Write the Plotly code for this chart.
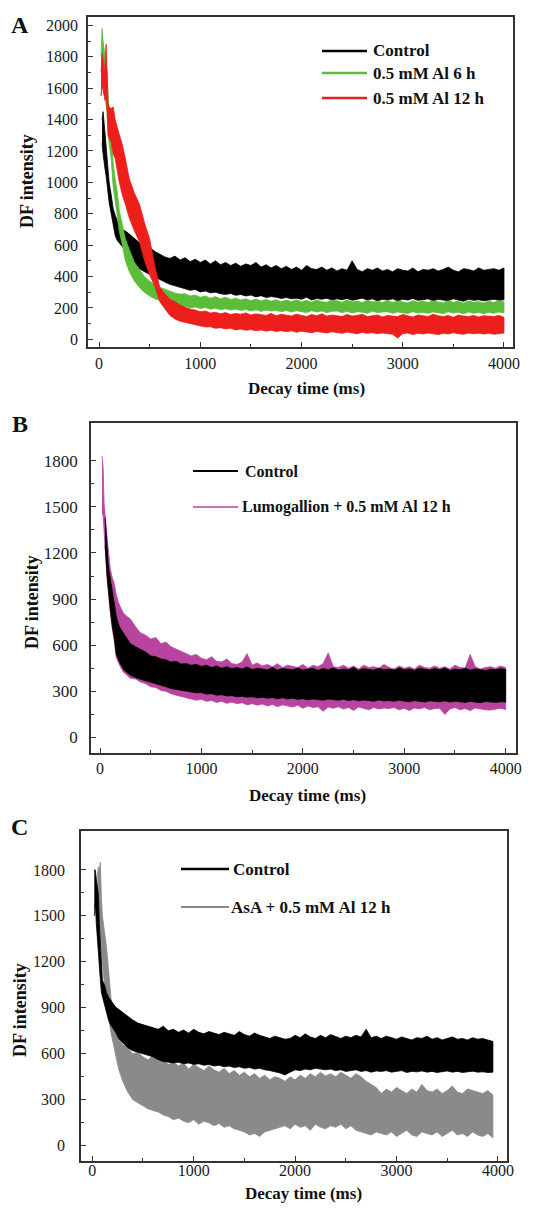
import plotly.graph_objects as go

# ---------------- data ----------------
EARLY = [10, 20, 30, 40, 50, 60, 70, 80, 90, 100, 120, 140, 160, 180, 200, 230, 260, 300]
TIME_AB = EARLY + list(range(350, 4001, 50))
TIME_C = EARLY + list(range(350, 3951, 50))

X_TICKS = [0, 1000, 2000, 3000, 4000]
Y_TICKS_A = [0, 200, 400, 600, 800, 1000, 1200, 1400, 1600, 1800, 2000]
Y_TICKS_BC = [0, 300, 600, 900, 1200, 1500, 1800]

# Panel A : Control (black)
CTRL_A_HI = [None, None, 1400, 1450, 1380, 1300, 1220, 1150, 1080, 1000, 920, 830, 790, 750, 720, 700, 690, 670,
             640, 615, 600, 585, 560, 540, 525, 515, 530, 505,
             520, 495, 510, 490, 505, 480, 500, 475, 490, 470,
             485, 465, 480, 470, 490, 460, 475, 455, 470, 450,
             465, 445, 460, 440, 470, 450, 445, 460, 440, 455,
             435, 450, 440, 500, 445, 430, 450, 440, 455, 435,
             445, 430, 450, 440, 435, 455, 430, 445, 440, 450,
             435, 445, 460, 440, 430, 450, 445, 435, 455, 440,
             445, 450, 440, 455]
CTRL_A_LO = [None, None, 1250, 1180, 1120, 1080, 1040, 1000, 940, 870, 800, 720, 660, 630, 610, 590, 570, 555,
             470, 450, 430, 410, 395, 380, 365, 350, 340, 330,
             322, 312, 318, 302, 308, 296, 300, 290, 286, 292,
             280, 286, 276, 282, 270, 278, 266, 272, 268, 260,
             266, 258, 262, 255, 268, 250, 260, 255, 262, 250,
             258, 252, 260, 248, 255, 262, 250, 258, 245, 255,
             250, 258, 245, 255, 250, 260, 248, 252, 258, 245,
             255, 250, 245, 258, 250, 242, 255, 248, 252, 245,
             250, 255, 248, 252]
# Panel A : 0.5 mM Al 6 h (green)
AL6_A_HI = [None, 1800, 1980, 1900, 1850, 1800, 1740, 1700, 1550, 1420, 1300, 1120, 1020, 940, 820, 720, 640, 570,
            490, 445, 398, 372, 348, 332, 318, 304, 294, 288,
            290, 276, 282, 268, 276, 262, 272, 258, 268, 254,
            262, 250, 258, 246, 256, 244, 254, 242, 252, 240,
            250, 240, 252, 238, 248, 236, 250, 240, 236, 248,
            246, 236, 250, 238, 244, 234, 248, 238, 242, 234,
            246, 234, 244, 238, 232, 246, 236, 242, 234, 244,
            240, 232, 246, 236, 242, 230, 244, 236, 240, 232,
            242, 234, 246, 238]
AL6_A_LO = [None, 1550, 1700, 1650, 1600, 1540, 1480, 1440, 1300, 1250, 1150, 970, 880, 790, 690, 600, 500, 430,
            370, 330, 298, 276, 258, 246, 236, 224, 214, 208,
            212, 200, 206, 196, 202, 192, 198, 188, 195, 186,
            192, 184, 190, 180, 188, 178, 186, 180, 184, 176,
            184, 174, 182, 176, 170, 182, 174, 180, 170, 178,
            180, 170, 178, 168, 176, 172, 166, 178, 170, 174,
            176, 166, 174, 170, 164, 176, 168, 172, 166, 174,
            170, 164, 176, 168, 172, 162, 174, 166, 170, 164,
            172, 166, 174, 168]
# Panel A : 0.5 mM Al 12 h (red)
AL12_A_HI = [None, 1700, 1820, 1780, 1700, 1760, 1880, 1700, 1500, 1480, 1470, 1480, 1400, 1350, 1310, 1240, 1150, 1020,
             930, 860, 740, 640, 470, 330, 290, 255, 240, 218,
             205, 192, 186, 176, 180, 168, 172, 162, 170, 158,
             165, 160, 168, 155, 162, 158, 152, 165, 150, 160,
             155, 148, 160, 152, 145, 158, 150, 162, 148, 155,
             150, 145, 158, 148, 152, 160, 145, 150, 155, 142,
             152, 148, 145, 158, 150, 142, 155, 148, 145, 160,
             150, 145, 152, 140, 155, 148, 145, 152, 142, 150,
             148, 145, 152, 140]
AL12_A_LO = [None, 1550, 1620, 1600, 1560, 1520, 1560, 1450, 1300, 1280, 1260, 1180, 1150, 1080, 1000, 920, 860, 770,
             690, 620, 500, 410, 340, 240, 195, 152, 130, 115,
             105, 98, 90, 85, 78, 80, 70, 74, 66, 70,
             60, 65, 58, 62, 55, 60, 52, 58, 50, 55,
             48, 54, 45, 52, 48, 42, 50, 45, 40, 48,
             44, 38, 46, 40, 35, 44, 38, 42, 36, 40,
             38, 32, 8, 36, 40, 30, 38, 34, 40, 36,
             30, 38, 34, 42, 36, 32, 40, 35, 38, 34,
             38, 32, 36, 40]

# Panel B : Control (black)
CTRL_B_HI = [None, None, None, None, 1430, 1320, 1220, 1130, 1080, 1040, 940, 880, 790, 740, 710, 680, 650, 610,
             590, 575, 555, 530, 525, 510, 505, 490, 495, 478,
             480, 470, 475, 462, 470, 455, 465, 450, 460, 448,
             455, 445, 458, 442, 450, 445, 440, 455, 438, 448,
             445, 440, 452, 438, 445, 450, 436, 448, 440, 452,
             438, 445, 440, 455, 436, 448, 442, 438, 450, 440,
             445, 438, 452, 440, 446, 436, 450, 442, 438, 448,
             440, 452, 436, 445, 440, 450, 438, 446, 442, 436,
             445, 440, 448, 442]
CTRL_B_LO = [None, None, None, None, 1250, 1150, 1050, 960, 900, 840, 730, 650, 540, 510, 480, 445, 425, 405,
             390, 378, 368, 355, 350, 340, 330, 318, 312, 305,
             300, 295, 290, 292, 282, 285, 275, 278, 270, 272,
             265, 268, 262, 265, 258, 262, 255, 260, 252, 258,
             250, 255, 248, 252, 245, 250, 248, 242, 250, 245,
             242, 248, 240, 246, 238, 244, 240, 236, 244, 238,
             240, 235, 242, 238, 232, 240, 236, 230, 238, 234,
             232, 238, 230, 236, 232, 228, 235, 230, 226, 234,
             230, 228, 232, 230]
# Panel B : Lumogallion + 0.5 mM Al 12 h (magenta)
LUMO_B_HI = [None, 1830, 1760, 1520, 1420, 1370, 1300, 1220, 1150, 1100, 1040, 1000, 930, 880, 850, 810, 790, 770,
             720, 680, 665, 640, 650, 610, 620, 590, 575, 560,
             545, 530, 540, 515, 505, 525, 495, 490, 510, 480,
             475, 490, 545, 470, 485, 465, 475, 460, 480, 455,
             470, 460, 455, 475, 450, 470, 460, 480, 550, 460,
             455, 470, 450, 465, 445, 470, 455, 460, 450, 475,
             455, 445, 465, 450, 460, 445, 470, 455, 450, 465,
             450, 460, 445, 470, 455, 450, 540, 460, 445, 455,
             460, 450, 465, 455]
LUMO_B_LO = [None, 1450, 1450, 1400, 1230, 1130, 1030, 940, 880, 820, 710, 630, 520, 490, 460, 425, 405, 385,
             380, 360, 350, 330, 325, 305, 300, 285, 275, 262,
             255, 250, 242, 248, 235, 240, 228, 235, 222, 230,
             220, 226, 212, 220, 210, 218, 205, 215, 200, 212,
             205, 198, 210, 190, 205, 195, 200, 170, 198, 190,
             200, 185, 195, 175, 198, 190, 180, 195, 185, 192,
             188, 195, 180, 190, 175, 192, 185, 195, 180, 188,
             190, 150, 185, 195, 180, 188, 175, 192, 185, 180,
             178, 185, 190, 182]

# Panel C : Control (black)
CTRL_C_HI = [None, 1800, 1800, 1740, 1700, 1640, 1450, 1300, 1180, 1080, 1050, 1000, 970, 950, 930, 905, 890, 870,
             840, 820, 800, 790, 775, 770, 760, 780, 750, 760,
             740, 755, 735, 760, 740, 730, 745, 735, 725, 740,
             730, 720, 745, 725, 715, 735, 720, 710, 700, 715,
             705, 695, 700, 720, 705, 730, 710, 700, 720, 705,
             725, 710, 700, 715, 705, 720, 710, 760, 705, 715,
             700, 715, 705, 695, 710, 700, 690, 705, 700, 715,
             695, 705, 690, 700, 710, 695, 700, 690, 705, 695,
             700, 690, 680]
CTRL_C_LO = [None, 1500, 1580, 1450, 1350, 1280, 1160, 1080, 1000, 960, 920, 870, 820, 790, 770, 740, 700, 670,
             640, 620, 610, 600, 590, 580, 560, 550, 545, 540,
             545, 535, 540, 530, 535, 525, 530, 520, 525, 515,
             520, 510, 515, 505, 510, 500, 505, 495, 490, 485,
             475, 462, 480, 495, 490, 500, 495, 505, 500, 495,
             500, 490, 495, 485, 490, 495, 485, 490, 480, 488,
             485, 490, 480, 486, 490, 478, 485, 482, 488, 480,
             485, 478, 482, 488, 480, 485, 478, 482, 486, 480,
             482, 478, 480]
# Panel C : AsA + 0.5 mM Al 12 h (grey)
ASA_C_HI = [None, None, None, None, 1750, 1820, 1800, 1850, 1620, 1500, 1400, 1300, 1150, 1020, 850, 760, 700, 660,
            640, 600, 610, 580, 560, 590, 550, 560, 530, 545,
            520, 540, 500, 530, 510, 490, 520, 495, 480, 505,
            470, 490, 460, 480, 450, 470, 440, 460, 430, 450,
            440, 420, 450, 430, 460, 440, 470, 450, 480, 455,
            470, 450, 480, 460, 440, 470, 450, 420, 400, 380,
            340, 370, 350, 380, 360, 340, 370, 350, 400, 360,
            350, 370, 340, 360, 390, 350, 340, 370, 360, 350,
            340, 360, 330]
ASA_C_LO = [None, None, None, None, 1500, 1550, 1500, 1450, 1300, 1200, 1050, 950, 850, 750, 680, 600, 500, 420,
            350, 300, 280, 260, 240, 230, 220, 200, 190, 170,
            180, 160, 150, 170, 140, 160, 150, 130, 145, 120,
            130, 110, 100, 90, 70, 80, 60, 90, 100, 110,
            120, 130, 110, 140, 120, 130, 100, 140, 120, 110,
            130, 120, 140, 110, 130, 100, 90, 80, 70, 90,
            80, 70, 90, 60, 80, 100, 70, 60, 90, 80,
            70, 90, 60, 80, 100, 70, 80, 60, 90, 70,
            60, 80, 50]

# ---------------- styling ----------------
# the page body keeps its default 8 px margin, so the figure starts at (8, 8)
OFF = 8
W, H = 535, 1198
SERIF = "Liberation Serif"
BLACK = "#000000"
GREEN = "#5cbd3a"
RED = "#ec1f1c"
MAGENTA = "#b8449f"
GREY = "#8a8a8a"
FRAME = "#333333"


def px(x):
    return (x - OFF) / W


def py(y):
    return 1 - (y - OFF) / H


def band(t, hi, lo):
    assert len(t) == len(hi) == len(lo), (len(t), len(hi), len(lo))
    pts = [(a, b, c) for a, b, c in zip(t, hi, lo) if b is not None]
    xs = [p[0] for p in pts] + [p[0] for p in reversed(pts)]
    ys = [p[1] for p in pts] + [p[2] for p in reversed(pts)]
    return xs, ys


fig = go.Figure()

series = [
    ("x", "y", TIME_AB, CTRL_A_HI, CTRL_A_LO, BLACK),
    ("x", "y", TIME_AB, AL6_A_HI, AL6_A_LO, GREEN),
    ("x", "y", TIME_AB, AL12_A_HI, AL12_A_LO, RED),
    ("x2", "y2", TIME_AB, LUMO_B_HI, LUMO_B_LO, MAGENTA),
    ("x2", "y2", TIME_AB, CTRL_B_HI, CTRL_B_LO, BLACK),
    ("x3", "y3", TIME_C, ASA_C_HI, ASA_C_LO, GREY),
    ("x3", "y3", TIME_C, CTRL_C_HI, CTRL_C_LO, BLACK),
]
for xa, ya, t, hi, lo, col in series:
    xs, ys = band(t, hi, lo)
    fig.add_trace(go.Scatter(x=xs, y=ys, xaxis=xa, yaxis=ya, mode="lines",
                             fill="toself", fillcolor=col,
                             line=dict(color=col, width=0.8),
                             hoverinfo="skip", showlegend=False))

tickfont = dict(family=SERIF, size=16, color="#1a1a1a")


def xaxis(domain, rng, anchor, standoff):
    return dict(domain=domain, range=rng, anchor=anchor, showline=True, linecolor=FRAME,
                linewidth=1.5, mirror=True, ticks="inside", ticklen=5, tickwidth=1.2,
                tickcolor=FRAME, tickvals=X_TICKS, ticktext=[str(v) for v in X_TICKS],
                minor=dict(tickvals=[500, 1500, 2500, 3500], ticks="inside", ticklen=3,
                           tickcolor=FRAME, tickwidth=1),
                showgrid=False, zeroline=False, tickfont=tickfont, automargin=False,
                ticklabelstandoff=standoff)


def yaxis(domain, rng, anchor, ticks, minor_ticks, standoff, size=16):
    return dict(domain=domain, range=rng, anchor=anchor, showline=True, linecolor=FRAME,
                linewidth=1.5, mirror=True, ticks="inside", ticklen=5, tickwidth=1.2,
                tickcolor=FRAME, tickvals=ticks, ticktext=[str(v) for v in ticks],
                minor=dict(tickvals=minor_ticks, ticks="inside", ticklen=3,
                           tickcolor=FRAME, tickwidth=1),
                showgrid=False, zeroline=False, automargin=False,
                tickfont=dict(family=SERIF, size=size, color="#1a1a1a"),
                ticklabelstandoff=standoff)


minor_A = [100 + 200 * i for i in range(10)]
minor_BC = [150 + 300 * i for i in range(6)]

fig.update_layout(
    template="none",
    width=W, height=H, autosize=False,
    margin=dict(l=0, r=0, t=0, b=0, pad=0),
    paper_bgcolor="white", plot_bgcolor="white",
    xaxis=xaxis([px(88), px(513)], [-109, 4089], "y", 1),
    yaxis=yaxis([py(347), py(17)], [-49, 2053], "x", Y_TICKS_A, minor_A, 5, 16),
    xaxis2=xaxis([px(91), px(516)], [-89, 4102], "y2", 0),
    yaxis2=yaxis([py(753), py(423)], [-101, 2045], "x2", Y_TICKS_BC, minor_BC, 8, 17),
    xaxis3=xaxis([px(81), px(507)], [-111, 4089], "y3", -6),
    yaxis3=yaxis([py(1161), py(831)], [-100, 2054], "x3", Y_TICKS_BC, minor_BC, 11, 16),
)

ann = []
bold = lambda s: dict(family=SERIF, size=s, color="#111111")


def text(x, y, s, size, angle=0, xanchor="center"):
    ann.append(dict(x=px(x), y=py(y), xref="paper", yref="paper", text="<b>%s</b>" % s,
                    showarrow=False, font=bold(size), textangle=angle,
                    xanchor=xanchor, yanchor="middle"))


# panel letters
text(20, 25, "A", 24)
text(20, 424, "B", 24)
text(20, 827, "C", 24)
# axis titles
text(306, 388, "Decay time (ms)", 17)
text(307, 795, "Decay time (ms)", 17)
text(303, 1193, "Decay time (ms)", 17)
text(27, 181, "DF intensity", 18, angle=-90)
text(32, 602, "DF intensity", 18, angle=-90)
text(20, 1010, "DF intensity", 18, angle=-90)

# legends
shapes = []


def leg(x0, x1, y, col, wdt, label, size, tx):
    shapes.append(dict(type="line", xref="paper", yref="paper", x0=px(x0), x1=px(x1),
                       y0=py(y), y1=py(y), line=dict(color=col, width=wdt)))
    text(tx, y, label, size, xanchor="left")


leg(322, 367, 51, BLACK, 2.5, "Control", 17, 371)
leg(322, 367, 73, GREEN, 2.5, "0.5 mM Al 6 h", 17, 371)
leg(322, 367, 98, RED, 2.5, "0.5 mM Al 12 h", 17, 371)
leg(193, 238, 471, BLACK, 2.2, "Control", 16, 243)
leg(193, 238, 507, MAGENTA, 1.6, "Lumogallion + 0.5 mM Al 12 h", 16, 240)
leg(181, 229, 869, BLACK, 2.5, "Control", 17, 231)
leg(181, 229, 907, GREY, 2.0, "AsA + 0.5 mM Al 12 h", 17, 229)

fig.update_layout(annotations=ann, shapes=shapes)
fig.write_html("out.html")
